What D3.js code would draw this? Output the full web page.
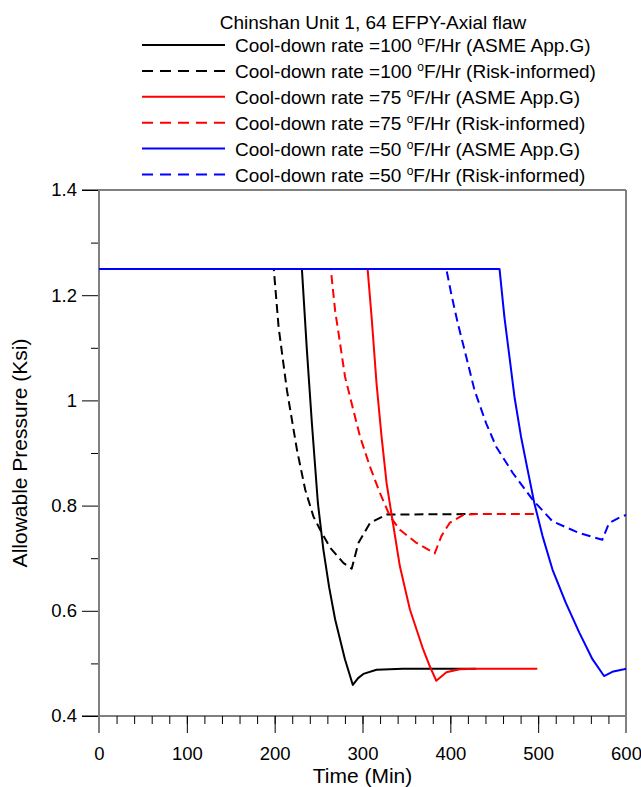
<!DOCTYPE html>
<html>
<head>
<meta charset="utf-8">
<script src="https://cdn.jsdelivr.net/npm/d3@7"></script>
<style>
  body { margin: 0; background: #fff; }
  text { font-family: "Liberation Sans", Arial, sans-serif; fill: #000; }
</style>
</head>
<body>
<div id="chart"></div>
<script>
// chart data
const chartTitle = "Chinshan Unit 1, 64 EFPY-Axial flaw";
const seriesNames = ["=100 ", "=100 ", "=75 ", "=75 ", "=50 ", "=50 "];
const seriesKinds = ["(ASME App.G)", "(Risk-informed)", "(ASME App.G)", "(Risk-informed)", "(ASME App.G)", "(Risk-informed)"];
const seriesColors = ["#000000", "#000000", "#ff0000", "#ff0000", "#0000ff", "#0000ff"];
const seriesDashed = [false, true, false, true, false, true];

const asme100Time = [0, 231, 236.7, 242.4, 249.2, 255.5, 262, 268.8, 280, 289, 295, 301, 316, 346, 429];
const asme100Pres = [1.25, 1.25, 1.095, 0.956, 0.805, 0.716, 0.645, 0.584, 0.508, 0.459, 0.472, 0.480, 0.488, 0.490, 0.490];

const risk100Time = [0, 199, 204.5, 214, 225.4, 234.8, 244.2, 251.8, 263.1, 278.2, 287.7, 295.3, 308.5, 327.4, 429];
const risk100Pres = [1.25, 1.25, 1.139, 1.019, 0.906, 0.830, 0.779, 0.754, 0.720, 0.691, 0.680, 0.729, 0.767, 0.783, 0.784];

const asme75Time = [0, 305.8, 310.4, 316, 321.7, 327.4, 333, 342.5, 353.9, 369, 376.5, 384, 395.5, 410.6, 430, 499];
const asme75Pres = [1.25, 1.25, 1.158, 1.032, 0.931, 0.843, 0.784, 0.685, 0.603, 0.527, 0.495, 0.467, 0.483, 0.489, 0.490, 0.490];

const risk75Time = [0, 263.9, 268.8, 274.5, 280.1, 287.7, 297.2, 308.5, 319.8, 331.2, 342.5, 361.5, 382.2, 389.8, 399.2, 414.3, 430, 497.5];
const risk75Pres = [1.25, 1.25, 1.171, 1.108, 1.045, 0.994, 0.931, 0.874, 0.824, 0.780, 0.754, 0.729, 0.709, 0.742, 0.767, 0.782, 0.784, 0.784];

const asme50Time = [0, 456, 461.6, 467.3, 473, 480.5, 488, 495.6, 505, 516.4, 531.5, 546.7, 561.8, 575, 584.4, 597.7, 600];
const asme50Pres = [1.25, 1.25, 1.158, 1.083, 1.007, 0.931, 0.868, 0.805, 0.742, 0.678, 0.615, 0.559, 0.508, 0.476, 0.484, 0.489, 0.490];

const risk50Time = [0, 395.4, 401.1, 408.6, 418.1, 427.6, 440.9, 452.2, 471.1, 493.8, 516.4, 546.7, 573, 580.7, 595.8, 600];
const risk50Pres = [1.25, 1.25, 1.202, 1.146, 1.083, 1.019, 0.956, 0.912, 0.862, 0.811, 0.770, 0.748, 0.735, 0.767, 0.780, 0.782];

const xMajorTicks = [0, 100, 200, 300, 400, 500, 600];
const yMajorTicks = [0.4, 0.6, 0.8, 1.0, 1.2, 1.4];

const seriesData = [
  d3.zip(asme100Time, asme100Pres),
  d3.zip(risk100Time, risk100Pres),
  d3.zip(asme75Time, asme75Pres),
  d3.zip(risk75Time, risk75Pres),
  d3.zip(asme50Time, asme50Pres),
  d3.zip(risk50Time, risk50Pres)
];

const width = 641,
  height = 787,
  plotLeft = 99,
  plotRight = 626,
  plotTop = 190,
  plotBottom = 716;

const x = d3.scaleLinear().domain([0, 600]).range([plotLeft, plotRight]);
const y = d3.scaleLinear().domain([0.4, 1.4]).range([plotBottom, plotTop]);

const svg = d3.select("#chart")
  .append("svg")
  .attr("width", width)
  .attr("height", height);

// x axis: minor ticks then major ticks with labels
svg.append("g")
  .attr("transform", `translate(0,${plotBottom})`)
  .call(d3.axisBottom(x).tickValues(d3.range(0, 601, 20)).tickSize(8).tickFormat(""))
  .call(g => g.select(".domain").remove())
  .call(g => g.selectAll("line").attr("stroke", "#000"));

svg.append("g")
  .attr("transform", `translate(0,${plotBottom})`)
  .call(d3.axisBottom(x).tickValues(xMajorTicks).tickSize(17).tickPadding(14).tickFormat(d3.format("d")))
  .call(g => g.select(".domain").remove())
  .call(g => g.selectAll("line").attr("stroke", "#000"))
  .call(g => g.selectAll("text").attr("font-size", 18.5).attr("font-family", "Liberation Sans, Arial, sans-serif"));

// y axis
svg.append("g")
  .attr("transform", `translate(${plotLeft},0)`)
  .call(d3.axisLeft(y).tickValues(d3.range(5, 14, 2).map(d => d / 10)).tickSize(8).tickFormat(""))
  .call(g => g.select(".domain").remove())
  .call(g => g.selectAll("line").attr("stroke", "#000"));

svg.append("g")
  .attr("transform", `translate(${plotLeft},0)`)
  .call(d3.axisLeft(y).tickValues(yMajorTicks).tickSize(17).tickPadding(5).tickFormat(d => d === 1 ? "1" : d3.format(".1f")(d)))
  .call(g => g.select(".domain").remove())
  .call(g => g.selectAll("line").attr("stroke", "#000"))
  .call(g => g.selectAll("text").attr("font-size", 18.5).attr("font-family", "Liberation Sans, Arial, sans-serif"));

// frame
svg.append("line")
  .attr("x1", plotLeft - 17).attr("x2", plotRight)
  .attr("y1", plotTop).attr("y2", plotTop)
  .attr("stroke", "#000");
svg.append("line")
  .attr("x1", plotLeft - 17).attr("x2", plotRight)
  .attr("y1", plotBottom).attr("y2", plotBottom)
  .attr("stroke", "#000");
svg.selectAll(".vframe")
  .data([0, 600])
  .join("line")
  .attr("x1", d => x(d)).attr("x2", d => x(d))
  .attr("y1", plotTop).attr("y2", plotBottom + 17)
  .attr("stroke", "#808080")
  .attr("stroke-width", 2);

// curves
const line = d3.line().x(d => x(d[0])).y(d => y(d[1]));
const drawOrder = [0, 1, 2, 3, 5, 4];

svg.append("g")
  .attr("fill", "none")
  .attr("stroke-width", 2)
  .attr("stroke-linejoin", "round")
  .selectAll("path")
  .data(drawOrder)
  .join("path")
  .attr("stroke", i => seriesColors[i])
  .attr("stroke-dasharray", i => seriesDashed[i] ? "9,5" : null)
  .attr("d", i => line(seriesData[i]));

// axis titles
svg.append("text")
  .attr("x", (plotLeft + plotRight) / 2)
  .attr("y", 783)
  .attr("text-anchor", "middle")
  .attr("font-size", 21)
  .text("Time (Min)");

svg.append("text")
  .attr("transform", `translate(27,${(plotTop + plotBottom) / 2}) rotate(-90)`)
  .attr("text-anchor", "middle")
  .attr("font-size", 21)
  .text("Allowable Pressure (Ksi)");

// legend
svg.append("text")
  .attr("x", 373)
  .attr("y", 28.5)
  .attr("text-anchor", "middle")
  .attr("font-size", 19)
  .text(chartTitle);

const legend = svg.append("g")
  .selectAll("g")
  .data(d3.range(seriesNames.length))
  .join("g")
  .attr("transform", i => `translate(0,${45 + i * 25.9})`);

legend.append("line")
  .attr("x1", 142).attr("x2", 225)
  .attr("y1", 0).attr("y2", 0)
  .attr("stroke", i => seriesColors[i])
  .attr("stroke-width", 2)
  .attr("stroke-dasharray", i => seriesDashed[i] ? "11,7" : null);

const lt = legend.append("text")
  .attr("x", 235)
  .attr("y", 7)
  .attr("font-size", 19);
lt.append("tspan").text(i => "Cool-down rate " + seriesNames[i]);
lt.append("tspan").attr("font-size", 12).attr("dy", -7).text("o");
lt.append("tspan").attr("dy", 7).text(i => "F/Hr " + seriesKinds[i]);
</script>
</body>
</html>
